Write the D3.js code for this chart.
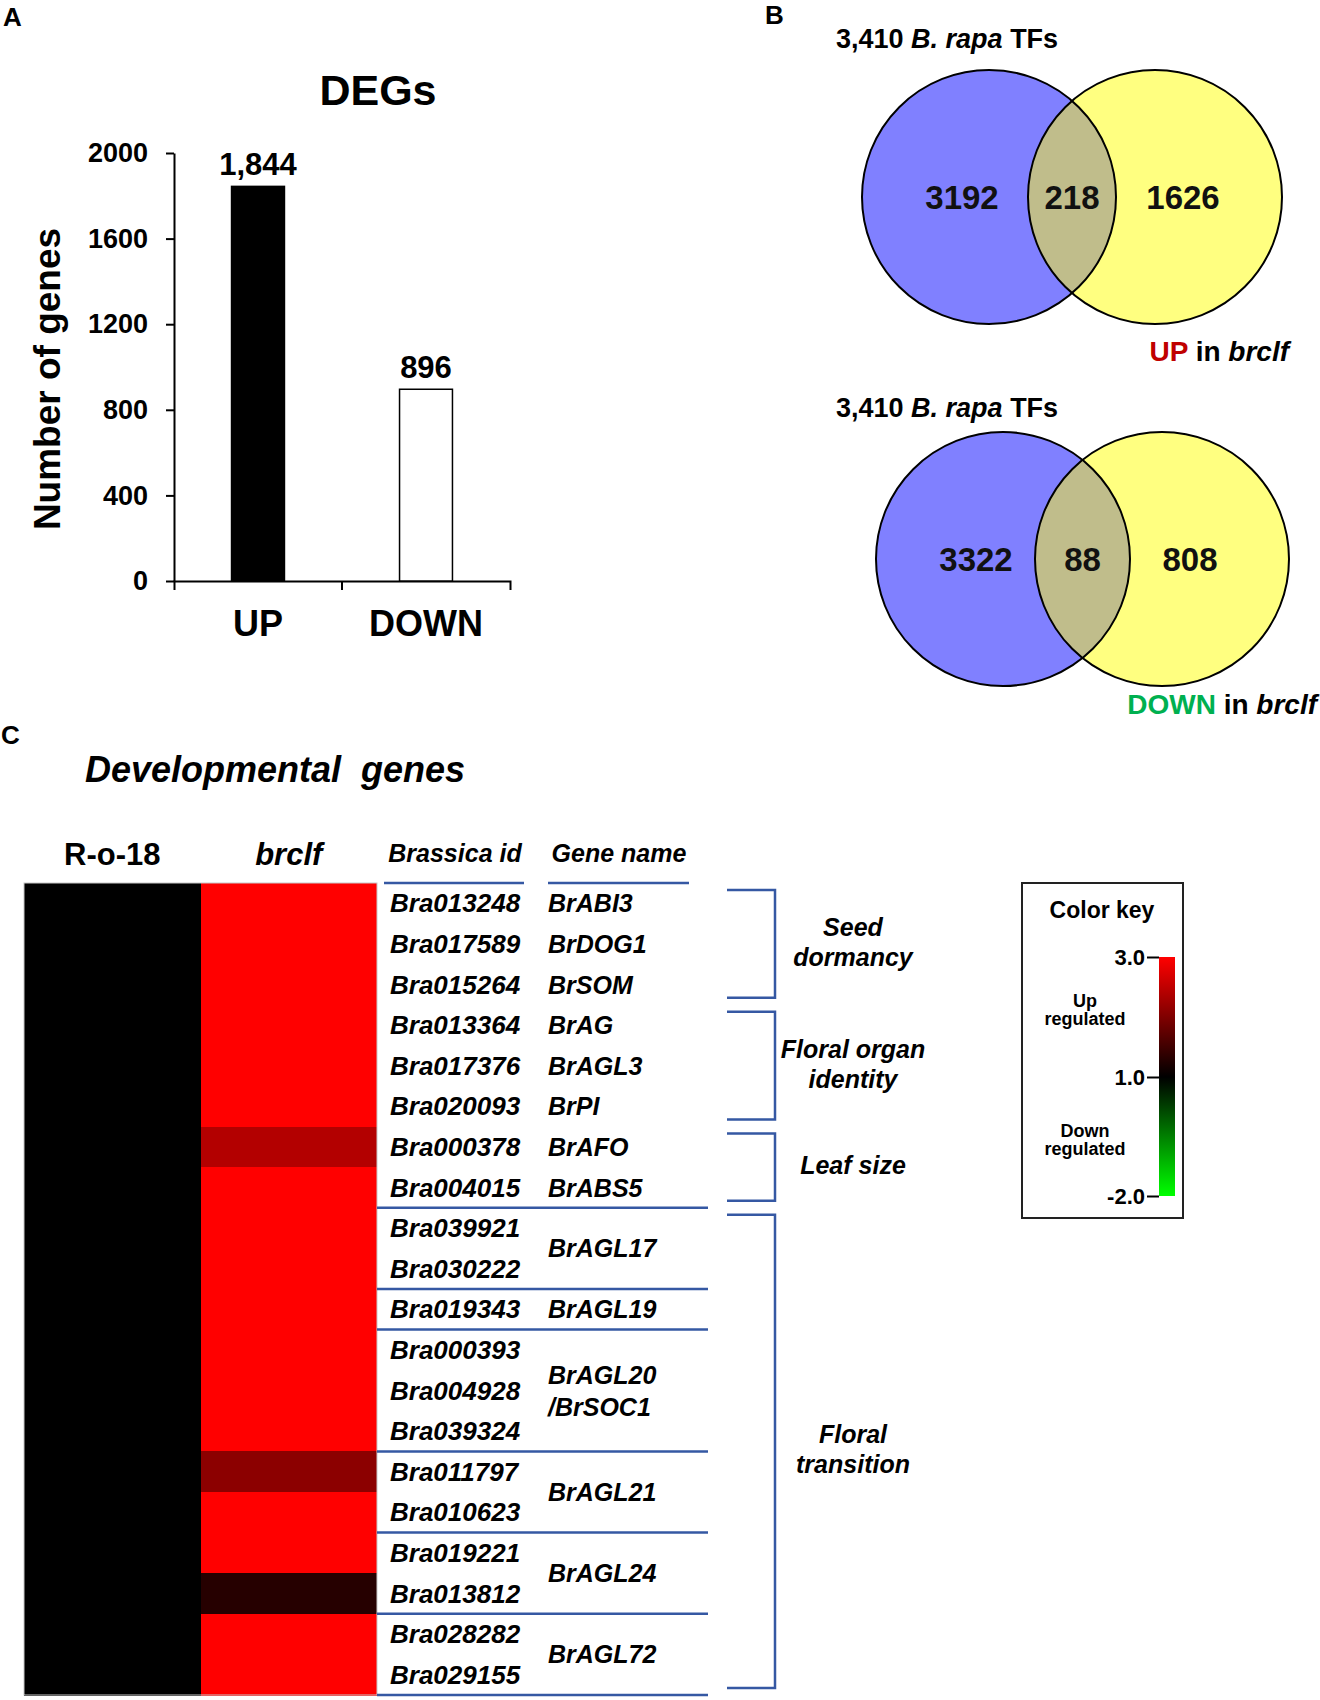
<!DOCTYPE html>
<html>
<head>
<meta charset="utf-8">
<script src="https://cdn.jsdelivr.net/npm/d3@7"></script>
<style>
  body { margin: 0; background: #fff; }
  svg text { font-family: "Liberation Sans", Arial, Helvetica, sans-serif; }
</style>
</head>
<body>
<svg id="chart" width="1320" height="1700"></svg>
<script>
// ---------------- DATA ----------------
// Panel A: DEG counts
const degCategories = ["UP", "DOWN"];
const degValues = [1844, 896];
const degValueLabels = ["1,844", "896"];
const degYTicks = [0, 400, 800, 1200, 1600, 2000];

// Panel B: Venn diagrams (TFs vs DEGs)
const vennTitles = ["3,410 B. rapa TFs", "3,410 B. rapa TFs"];
const vennDirection = ["UP", "DOWN"];
const vennTFOnly = [3192, 3322];
const vennOverlap = [218, 88];
const vennDEGOnly = [1626, 808];

// Panel C: heatmap
const heatColumns = ["R-o-18", "brclf"];
const geneIds = ["Bra013248", "Bra017589", "Bra015264", "Bra013364", "Bra017376", "Bra020093",
  "Bra000378", "Bra004015", "Bra039921", "Bra030222", "Bra019343", "Bra000393", "Bra004928",
  "Bra039324", "Bra011797", "Bra010623", "Bra019221", "Bra013812", "Bra028282", "Bra029155"];
const valuesRo18 = [1, 1, 1, 1, 1, 1, 1, 1, 1, 1, 1, 1, 1, 1, 1, 1, 1, 1, 1, 1];
const valuesBrclf = [3, 3, 3, 3, 3, 3, 2.4, 3, 3, 3, 3, 3, 3, 3, 2.1, 3, 3, 1.3, 3, 3];
const geneNameLabels = [["BrABI3"], ["BrDOG1"], ["BrSOM"], ["BrAG"], ["BrAGL3"], ["BrPI"], ["BrAFO"],
  ["BrABS5"], ["BrAGL17"], ["BrAGL19"], ["BrAGL20", "/BrSOC1"], ["BrAGL21"], ["BrAGL24"], ["BrAGL72"]];
const geneNameRowCounts = [1, 1, 1, 1, 1, 1, 1, 1, 2, 1, 3, 2, 2, 2];
const functionLabels = [["Seed", "dormancy"], ["Floral organ", "identity"], ["Leaf size"], ["Floral", "transition"]];
const functionRowCounts = [3, 3, 2, 12];
const colorKeyTicks = [3, 1, -2];
const colorKeyDomain = [-2, 1, 3];
const colorKeyColors = ["#00ff00", "#000000", "#ff0000"];

// ---------------- DRAW ----------------
const svg = d3.select("#chart");
const BLUE = "#3558a3";

function txt(g, x, y, s, size, opts = {}) {
  return g.append("text").attr("x", x).attr("y", y).text(s)
    .attr("font-size", size)
    .attr("font-weight", opts.weight || "bold")
    .attr("font-style", opts.italic ? "italic" : "normal")
    .attr("text-anchor", opts.anchor || "start")
    .attr("fill", opts.fill || "#000");
}

// Panel letters
txt(svg, 3, 26, "A", 26);
txt(svg, 765, 24, "B", 26);
txt(svg, 1, 744, "C", 26);

// ---------- Panel A ----------
const gA = svg.append("g");
const yBar = d3.scaleLinear().domain([0, 2000]).range([581, 153]);
const xBar = d3.scaleBand().domain(degCategories).range([174, 510]);

txt(gA, 378, 105, "DEGs", 43, { anchor: "middle" });

gA.append("g").attr("transform", "translate(174,0)")
  .call(d3.axisLeft(yBar).tickValues(degYTicks).tickFormat(d3.format("d"))
    .tickSize(8).tickSizeOuter(0).tickPadding(18))
  .call(g => {
    g.select(".domain").attr("stroke", "#000").attr("stroke-width", 2);
    g.selectAll(".tick line").attr("stroke", "#000").attr("stroke-width", 2);
    g.selectAll(".tick text").attr("font-size", 27).attr("font-weight", "bold")
      .attr("fill", "#000").attr("font-family", null);
  });

gA.append("g").attr("transform", "translate(0,581)")
  .call(d3.axisBottom(xBar).tickSize(0).tickSizeOuter(9).tickPadding(29))
  .call(g => {
    g.select(".domain").attr("stroke", "#000").attr("stroke-width", 2);
    g.selectAll(".tick text").attr("font-size", 36).attr("font-weight", "bold")
      .attr("fill", "#000").attr("font-family", null);
  });
// inner category boundary ticks
gA.selectAll(".bound").data(degCategories.slice(1)).enter().append("line")
  .attr("x1", d => xBar(d)).attr("x2", d => xBar(d))
  .attr("y1", 581).attr("y2", 590).attr("stroke", "#000").attr("stroke-width", 2);

gA.append("text")
  .attr("transform", "translate(60,379) rotate(-90)")
  .attr("text-anchor", "middle").attr("font-size", 37).attr("font-weight", "bold")
  .text("Number of genes");

const barW = xBar.bandwidth() * 0.315;
gA.selectAll(".bar").data(degValues).enter().append("rect")
  .attr("x", (d, i) => xBar(degCategories[i]) + (xBar.bandwidth() - barW) / 2)
  .attr("y", d => yBar(d))
  .attr("width", barW)
  .attr("height", d => yBar(0) - yBar(d))
  .attr("fill", (d, i) => i === 0 ? "#000" : "#fff")
  .attr("stroke", "#000").attr("stroke-width", 1.5);

gA.selectAll(".vlab").data(degValues).enter().append("text")
  .attr("x", (d, i) => xBar(degCategories[i]) + xBar.bandwidth() / 2)
  .attr("y", d => yBar(d) - 11)
  .attr("text-anchor", "middle").attr("font-size", 31).attr("font-weight", "bold")
  .text((d, i) => degValueLabels[i]);

// ---------- Panel B ----------
const gB = svg.append("g");
const vennLayout = [
  { cy: 197, cx1: 989, cx2: 1155, titleY: 48, subX: 1289, subY: 361 },
  { cy: 559, cx1: 1003, cx2: 1162, titleY: 417, subX: 1317, subY: 714 }
];
const R = 127;
const dirColors = { UP: "#c00000", DOWN: "#00b050" };

vennLayout.forEach((L, i) => {
  const g = gB.append("g");
  // title
  const t = g.append("text").attr("x", 836).attr("y", L.titleY).attr("font-size", 27).attr("font-weight", "bold");
  const parts = vennTitles[i].split(" ");
  t.append("tspan").text(parts[0] + " ");
  t.append("tspan").attr("font-style", "italic").text(parts[1] + " " + parts[2]);
  t.append("tspan").text(" " + parts[3]);

  const clipId = "clipL" + i;
  g.append("clipPath").attr("id", clipId).append("circle").attr("cx", L.cx1).attr("cy", L.cy).attr("r", R);
  g.append("circle").attr("cx", L.cx1).attr("cy", L.cy).attr("r", R).attr("fill", "#8080ff");
  g.append("circle").attr("cx", L.cx2).attr("cy", L.cy).attr("r", R).attr("fill", "#ffff80");
  g.append("circle").attr("cx", L.cx2).attr("cy", L.cy).attr("r", R).attr("fill", "#c0bd8b")
    .attr("clip-path", `url(#${clipId})`);
  [L.cx1, L.cx2].forEach(cx => g.append("circle").attr("cx", cx).attr("cy", L.cy).attr("r", R)
    .attr("fill", "none").attr("stroke", "#000").attr("stroke-width", 2));

  const lensX = ((L.cx2 - R) + (L.cx1 + R)) / 2;
  const nums = [[L.cx1 - 27, vennTFOnly[i]], [lensX, vennOverlap[i]], [L.cx2 + 28, vennDEGOnly[i]]];
  nums.forEach(([x, v]) => g.append("text").attr("x", x).attr("y", L.cy + 12)
    .attr("text-anchor", "middle").attr("font-size", 33).attr("font-weight", 600)
    .attr("font-family", "'Open Sans', 'Noto Sans', sans-serif").attr("fill", "#111").text(v));

  const s = g.append("text").attr("x", L.subX).attr("y", L.subY).attr("text-anchor", "end")
    .attr("font-size", 28).attr("font-weight", "bold");
  s.append("tspan").attr("fill", dirColors[vennDirection[i]]).text(vennDirection[i]);
  s.append("tspan").text(" in ");
  s.append("tspan").attr("font-style", "italic").text("brclf");
});

// ---------- Panel C ----------
const gC = svg.append("g");
gC.append("text").attr("x", 85).attr("y", 782).attr("font-size", 36).attr("font-weight", "bold")
  .attr("font-style", "italic").style("white-space", "pre").text("Developmental  genes");

const yRow = d3.scaleBand().domain(d3.range(geneIds.length)).range([883, 1695]);
const xCol = d3.scaleBand().domain(heatColumns).range([24, 377]);
const heatColor = d3.scaleLinear().domain(colorKeyDomain).range(colorKeyColors);
const heatSeries = [valuesRo18, valuesBrclf];

heatColumns.forEach((col, ci) => {
  gC.selectAll(".cell" + ci).data(heatSeries[ci]).enter().append("rect")
    .attr("x", xCol(col)).attr("width", xCol.bandwidth())
    .attr("y", (d, i) => yRow(i)).attr("height", yRow.bandwidth() + 0.5)
    .attr("fill", d => heatColor(d)).attr("shape-rendering", "crispEdges");
  gC.append("text").attr("x", xCol(col) + xCol.bandwidth() / 2).attr("y", 865)
    .attr("text-anchor", "middle").attr("font-size", 31).attr("font-weight", "bold")
    .attr("font-style", ci === 1 ? "italic" : "normal").text(col);
});
gC.append("rect").attr("x", xCol.range()[0]).attr("y", yRow.range()[0])
  .attr("width", xCol.range()[1] - xCol.range()[0]).attr("height", yRow.range()[1] - yRow.range()[0])
  .attr("fill", "none").attr("stroke", "#c8c8c8").attr("stroke-width", 1);

// headers
txt(gC, 455, 862, "Brassica id", 25, { italic: true, anchor: "middle" });
txt(gC, 619, 862, "Gene name", 25, { italic: true, anchor: "middle" });
gC.append("line").attr("x1", 384).attr("x2", 524).attr("y1", 883).attr("y2", 883).attr("stroke", BLUE).attr("stroke-width", 2.5);
gC.append("line").attr("x1", 548).attr("x2", 689).attr("y1", 883).attr("y2", 883).attr("stroke", BLUE).attr("stroke-width", 2.5);

// gene ids
gC.selectAll(".gid").data(geneIds).enter().append("text")
  .attr("x", 390).attr("y", (d, i) => yRow(i) + yRow.bandwidth() / 2 + 9)
  .attr("font-size", 26).attr("font-weight", "bold").attr("font-style", "italic").text(d => d);

// gene names (groups)
let start = 0;
const sepRows = [];
geneNameLabels.forEach((lines, gi) => {
  const n = geneNameRowCounts[gi];
  const cy = (yRow(start) + yRow(start + n - 1) + yRow.bandwidth()) / 2;
  lines.forEach((ln, li) => {
    txt(gC, 548, cy + 9 + (li - (lines.length - 1) / 2) * 32, ln, 25, { italic: true });
  });
  if (start >= functionRowCounts[0] + functionRowCounts[1] + functionRowCounts[2]) sepRows.push(start);
  start += n;
});
const yBottom = yRow.range()[1];
sepRows.map(r => yRow(r)).concat([yBottom]).forEach(y => {
  gC.append("line").attr("x1", 377).attr("x2", 708).attr("y1", y).attr("y2", y)
    .attr("stroke", BLUE).attr("stroke-width", 2.5);
});

// function brackets
start = 0;
functionLabels.forEach((lines, fi) => {
  const n = functionRowCounts[fi];
  const top = yRow(start) + 7;
  const bot = (start + n < geneIds.length ? yRow(start + n) : yBottom) - 7;
  gC.append("path").attr("d", `M727,${top}H775V${bot}H727`)
    .attr("fill", "none").attr("stroke", BLUE).attr("stroke-width", 2.5);
  const cy = (yRow(start) + (start + n < geneIds.length ? yRow(start + n) : yBottom)) / 2;
  lines.forEach((ln, li) => {
    txt(gC, 853, cy + 7 + (li - (lines.length - 1) / 2) * 30, ln, 25, { italic: true, anchor: "middle" });
  });
  start += n;
});

// color key
const gK = svg.append("g");
gK.append("rect").attr("x", 1022).attr("y", 883).attr("width", 161).attr("height", 335)
  .attr("fill", "none").attr("stroke", "#222").attr("stroke-width", 2);
txt(gK, 1102, 918, "Color key", 23, { anchor: "middle" });
const keyScale = d3.scaleLinear().domain(colorKeyDomain).range([1196, 1077, 957]);
const grad = svg.append("defs").append("linearGradient").attr("id", "keyGrad")
  .attr("x1", 0).attr("x2", 0).attr("y1", 0).attr("y2", 1);
const [kTop, kBot] = [keyScale(3), keyScale(-2)];
colorKeyDomain.slice().reverse().forEach(v => {
  grad.append("stop").attr("offset", (keyScale(v) - kTop) / (kBot - kTop)).attr("stop-color", heatColor(v));
});
gK.append("rect").attr("x", 1159).attr("y", kTop).attr("width", 16).attr("height", kBot - kTop)
  .attr("fill", "url(#keyGrad)");
gK.append("g").attr("transform", "translate(1159,0)")
  .call(d3.axisLeft(keyScale).tickValues(colorKeyTicks).tickFormat(d => d.toFixed(1)).tickSize(12).tickPadding(2))
  .call(g => {
    g.select(".domain").remove();
    g.selectAll(".tick line").attr("stroke", "#000").attr("stroke-width", 2);
    g.selectAll(".tick text").attr("font-size", 22).attr("font-weight", "bold").attr("fill", "#000")
      .attr("font-family", null);
  });
[["Up", "regulated", 1007], ["Down", "regulated", 1137]].forEach(([a, b, y]) => {
  txt(gK, 1085, y, a, 18, { anchor: "middle" });
  txt(gK, 1085, y + 18, b, 18, { anchor: "middle" });
});
</script>
</body>
</html>
